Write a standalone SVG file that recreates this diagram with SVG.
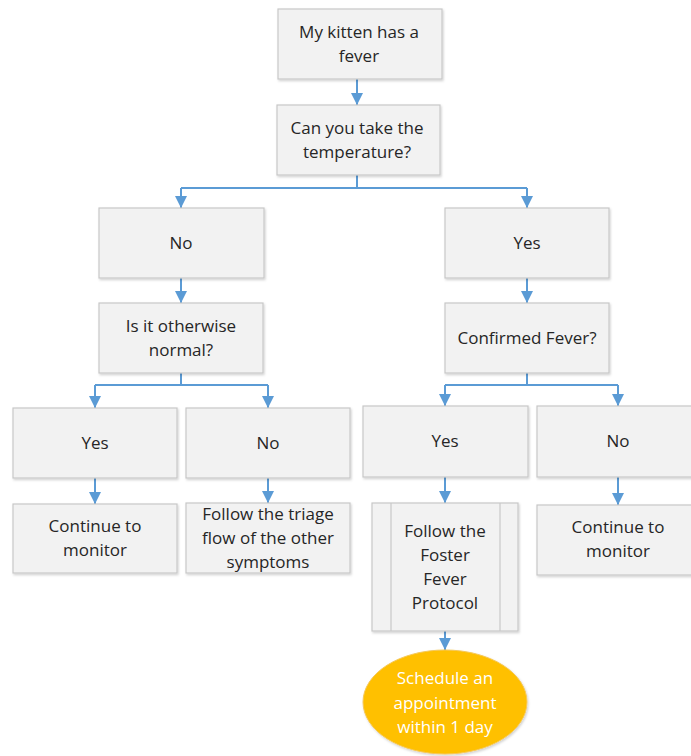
<svg xmlns="http://www.w3.org/2000/svg" width="691" height="756" viewBox="0 0 691 756">
<style>
.box{fill:#f2f2f2;stroke:#c8c8c8;stroke-width:1.2;filter:url(#sh)}
.ln{fill:none;stroke:#c8c8c8;stroke-width:1.2}
.t{font-family:"Open Sans","Liberation Sans",sans-serif;font-size:17px;fill:#262626;text-anchor:middle}
.w{fill:#ffffff}
.c{fill:none;stroke:#5b9bd5;stroke-width:2}
.a{marker-end:url(#ah)}
</style>
<defs>
<filter id="sh" x="-10%" y="-10%" width="130%" height="130%">
<feDropShadow dx="1" dy="1.5" stdDeviation="1.2" flood-color="#000" flood-opacity="0.18"/>
</filter>
<marker id="ah" markerUnits="userSpaceOnUse" markerWidth="14" markerHeight="12" refX="12" refY="6" orient="auto">
<path d="M0,0 L12,6 L0,12 Z" fill="#5b9bd5"/>
</marker>
</defs>
<g id="connectors">
<path class="c a" d="M357,79 V105"/>
<path class="c" d="M357,175 V188 M181,188 H527"/>
<path class="c a" d="M181,188 V208"/>
<path class="c a" d="M527,188 V208"/>
<path class="c a" d="M181,278 V303"/>
<path class="c a" d="M527,278 V303"/>
<path class="c" d="M181,373 V385 M95,385 H268"/>
<path class="c a" d="M95,385 V408"/>
<path class="c a" d="M268,385 V408"/>
<path class="c a" d="M95,478 V504"/>
<path class="c a" d="M268,478 V503"/>
<path class="c" d="M527,373 V385 M445,385 H618"/>
<path class="c a" d="M445,385 V406"/>
<path class="c a" d="M618,385 V406"/>
<path class="c a" d="M445,477 V503"/>
<path class="c a" d="M618,477 V505"/>
<path class="c a" d="M445,631 V650"/>
</g>
<g id="n1"><rect class="box" x="278" y="9" width="164" height="70"/><text class="t" x="359" y="38">My kitten has a</text><text class="t" x="359" y="62">fever</text></g>
<g id="n2"><rect class="box" x="277" y="105" width="163" height="70"/><text class="t" x="357" y="134">Can you take the</text><text class="t" x="357" y="158">temperature?</text></g>
<g id="n3"><rect class="box" x="99" y="208" width="165" height="70"/><text class="t" x="181" y="249">No</text></g>
<g id="n4"><rect class="box" x="99" y="303" width="164" height="70"/><text class="t" x="181" y="332">Is it otherwise</text><text class="t" x="181" y="356">normal?</text></g>
<g id="n5"><rect class="box" x="445" y="208" width="164" height="70"/><text class="t" x="527" y="249">Yes</text></g>
<g id="n6"><rect class="box" x="445" y="303" width="164" height="70"/><text class="t" x="527" y="344">Confirmed Fever?</text></g>
<g id="n7"><rect class="box" x="13" y="408" width="164" height="70"/><text class="t" x="95" y="449">Yes</text></g>
<g id="n8"><rect class="box" x="186" y="408" width="164" height="70"/><text class="t" x="268" y="449">No</text></g>
<g id="n9"><rect class="box" x="13" y="504" width="164" height="69"/><text class="t" x="95" y="532">Continue to</text><text class="t" x="95" y="556">monitor</text></g>
<g id="n10"><rect class="box" x="186" y="503" width="164" height="70"/><text class="t" x="268" y="520">Follow the triage</text><text class="t" x="268" y="544">flow of the other</text><text class="t" x="268" y="568">symptoms</text></g>
<g id="n11"><rect class="box" x="363" y="406" width="165" height="71"/><text class="t" x="445" y="447">Yes</text></g>
<g id="n12"><rect class="box" x="537" y="406" width="165" height="71"/><text class="t" x="618" y="447">No</text></g>
<g id="n13"><rect class="box" x="372" y="503" width="146" height="128"/><path class="ln" d="M391,503 V631 M500,503 V631"/><text class="t" x="445" y="537">Follow the</text><text class="t" x="445" y="561">Foster</text><text class="t" x="445" y="585">Fever</text><text class="t" x="445" y="609">Protocol</text></g>
<g id="n14"><rect class="box" x="537" y="505" width="165" height="70"/><text class="t" x="618" y="533">Continue to</text><text class="t" x="618" y="557">monitor</text></g>
<g id="n15"><ellipse cx="445" cy="702" rx="82" ry="52" fill="#ffc000" stroke="#f5c85a" stroke-width="1" filter="url(#sh)"/><text class="t w" x="445" y="684">Schedule an</text><text class="t w" x="445" y="709">appointment</text><text class="t w" x="445" y="733">within 1 day</text></g>
</svg>
